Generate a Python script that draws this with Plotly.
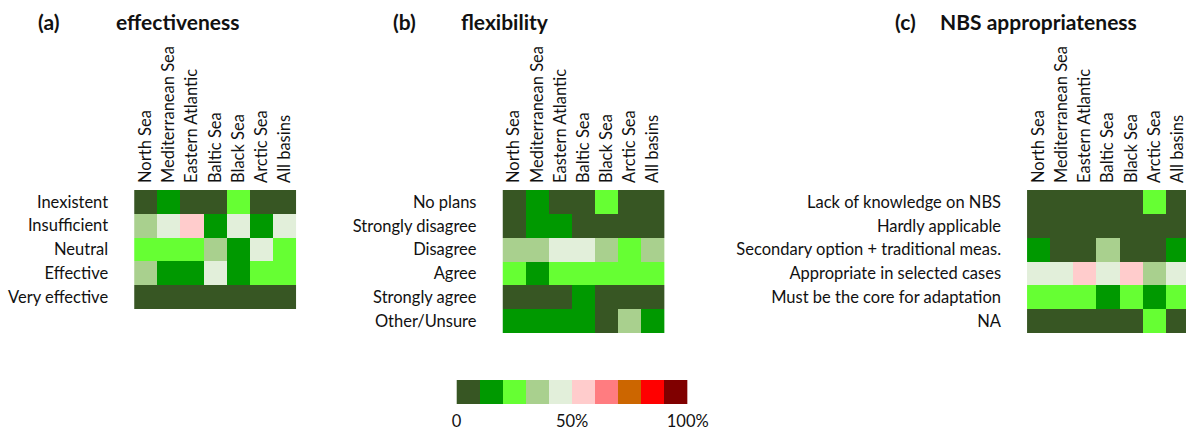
import plotly.graph_objects as go

basins = ["North Sea", "Mediterranean Sea", "Eastern Atlantic", "Baltic Sea",
          "Black Sea", "Arctic Sea", "All basins"]

eff_rows = ["Inexistent", "Insufficient", "Neutral", "Effective", "Very effective"]
eff_vals = [
    [5, 15, 5, 5, 25, 5, 5],
    [35, 45, 55, 15, 45, 15, 45],
    [25, 25, 25, 35, 15, 45, 25],
    [35, 15, 15, 45, 15, 25, 25],
    [5, 5, 5, 5, 5, 5, 5],
]

flex_rows = ["No plans", "Strongly disagree", "Disagree", "Agree",
             "Strongly agree", "Other/Unsure"]
flex_vals = [
    [5, 15, 5, 5, 25, 5, 5],
    [5, 15, 15, 5, 5, 5, 5],
    [35, 35, 45, 45, 35, 25, 35],
    [25, 15, 25, 25, 25, 25, 25],
    [5, 5, 5, 15, 5, 5, 5],
    [15, 15, 15, 15, 5, 35, 15],
]

nbs_rows = ["Lack of knowledge on NBS", "Hardly applicable",
            "Secondary option + traditional meas.", "Appropriate in selected cases",
            "Must be the core for adaptation", "NA"]
nbs_vals = [
    [5, 5, 5, 5, 5, 25, 5],
    [5, 5, 5, 5, 5, 5, 5],
    [15, 5, 5, 35, 5, 5, 15],
    [45, 45, 55, 45, 55, 35, 45],
    [25, 25, 25, 15, 25, 15, 25],
    [5, 5, 5, 5, 5, 25, 5],
]

legend_centers = [5, 15, 25, 35, 45, 55, 65, 75, 85, 95]
legend_ticks = [0, 50, 100]
legend_ticktext = ["0", "50%", "100%"]

colors = ["#375623", "#009900", "#66FF33", "#A9D08E", "#E2EFDA",
          "#FFCCCC", "#FF7C80", "#CC6600", "#FF0000", "#800000"]
cscale = []
for i, c in enumerate(colors):
    cscale.append([i / 10, c])
    cscale.append([(i + 1) / 10, c])

# target picture positions are converted to page pixels
SX, BX = 0.9775, 5.0
W, H = 1210, 431
FONT = "Lato"
FS = 16.5


def px_x(v):
    return min(max(((v - BX) / SX) / W, 0.0), 1.0)


def px_y(v):
    return 1 - v / H


fig = go.Figure()

panels = [
    (eff_vals, eff_rows, "x", "y", (134, 296), (190, 309)),
    (flex_vals, flex_rows, "x2", "y2", (502, 664), (190, 333)),
    (nbs_vals, nbs_rows, "x3", "y3", (1026, 1190), (190, 333)),
]

layout = dict(
    width=W, height=H, margin=dict(l=0, r=0, t=0, b=0),
    paper_bgcolor="white", plot_bgcolor="white",
    font=dict(family=FONT, size=FS, color="#111111"),
    showlegend=False,
)

for i, (vals, rows, xa, ya, (x0, x1), (y0, y1)) in enumerate(panels):
    fig.add_trace(go.Heatmap(
        z=vals, x=basins, y=rows, xaxis=xa, yaxis=ya,
        colorscale=cscale, zmin=0, zmax=100, showscale=False,
        hoverinfo="skip",
    ))
    xkey = "xaxis" if i == 0 else f"xaxis{i+1}"
    ykey = "yaxis" if i == 0 else f"yaxis{i+1}"
    layout[xkey] = dict(
        domain=[px_x(x0), px_x(x1)], anchor=ya, side="top",
        tickangle=-90, showgrid=False, zeroline=False, showline=False,
        ticks="", tickfont=dict(family=FONT, size=FS, color="#111111"),
        ticklabelstandoff=6,
    )
    layout[ykey] = dict(
        domain=[px_y(y1), px_y(y0)], anchor=xa, autorange="reversed",
        showgrid=False, zeroline=False, showline=False, ticks="",
        tickfont=dict(family=FONT, size=FS, color="#111111"),
        ticklabelstandoff=25,
    )

# colour legend
fig.add_trace(go.Heatmap(
    z=[legend_centers], x=legend_centers, y=[0], xaxis="x4", yaxis="y4",
    colorscale=cscale, zmin=0, zmax=100, showscale=False, hoverinfo="skip",
))
layout["xaxis4"] = dict(
    domain=[px_x(456), px_x(687)], anchor="y4", range=[0, 100],
    tickvals=legend_ticks, ticktext=legend_ticktext, showgrid=False,
    zeroline=False, showline=False, ticks="",
    tickfont=dict(family=FONT, size=FS, color="#111111"),
    ticklabelstandoff=5,
)
layout["yaxis4"] = dict(
    domain=[px_y(404), px_y(380)], anchor="x4", showticklabels=False,
    showgrid=False, zeroline=False, showline=False, ticks="",
)

titles = [("(a)", 36), ("effectiveness", 114), ("(b)", 391), ("flexibility", 459),
          ("(c)", 892), ("NBS appropriateness", 937)]
annotations = []
for txt, xpx in titles:
    annotations.append(dict(
        text=f"<b>{txt}</b>", x=px_x(xpx), y=px_y(22), xref="paper", yref="paper",
        xanchor="left", yanchor="middle", showarrow=False,
        font=dict(family=FONT, size=21, color="#111111"),
    ))
layout["annotations"] = annotations

fig.update_layout(**layout)
fig.write_html(
    "out.html",
    config={"displayModeBar": False},
    post_script="document.body.style.margin='0';document.documentElement.style.overflow='hidden';",
)
